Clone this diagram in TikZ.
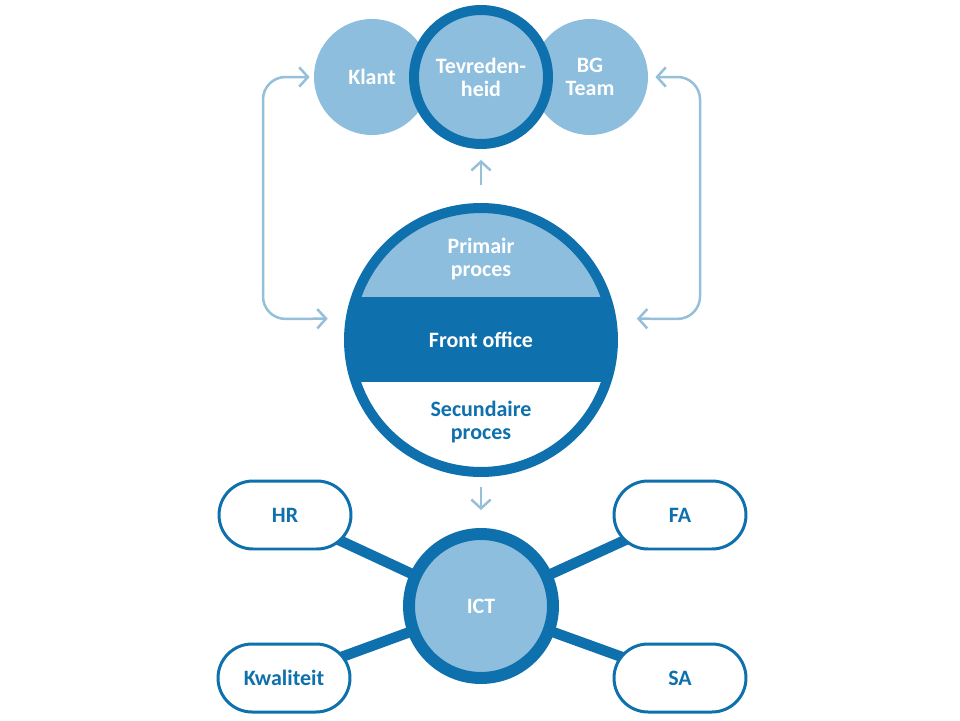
\documentclass[tikz,border=0pt]{standalone}
\usepackage{fontspec}
\setmainfont{Carlito}
\usetikzlibrary{arrows.meta,calc,backgrounds}
\definecolor{dkblue}{RGB}{14,112,172}
\definecolor{ltblue}{RGB}{141,190,222}
\definecolor{arrblue}{RGB}{150,192,218}
\begin{document}
\begin{tikzpicture}[x=0.02cm,y=-0.02cm,
 lbl/.style={font=\bfseries\fontsize{12.5}{13}\selectfont, align=center},
 topc/.style={circle, fill=ltblue, minimum size=2.32cm, inner sep=0pt, text=white, lbl},
 ring/.style={circle, draw=dkblue, line width=0.2cm, inner sep=0pt},
 pill/.style={rectangle, rounded corners=0.68cm, draw=dkblue, line width=0.06cm, fill=white, minimum width=2.64cm, minimum height=1.36cm, text=dkblue, lbl},
 link/.style={draw=dkblue, line width=0.21cm},
 tip/.tip={Straight Barb[length=5pt,width=11pt]},
 flow/.style={draw=arrblue, line width=0.05cm},
]
\useasboundingbox (0,0) rectangle (960,720);

% top circles
\node[topc] (klant) at (372,77) {Klant};
\node[topc] (bg) at (590,77) {BG\\Team};
\node[ring, fill=ltblue, minimum size=2.68cm, text=white, lbl] (tev) at (481,77) {Tevreden-\\heid};

% main circle with bands
\begin{scope}
\clip (481,340) circle (132);
\fill[ltblue] (330,190) rectangle (630,297);
\fill[dkblue] (330,297) rectangle (630,382);
\end{scope}
\node[ring, minimum size=5.28cm] (main) at (481,340) {};
\node[lbl, text=white] (prim) at (481,259) {Primair\\proces};
\node[lbl, text=white] (front) at (481,340) {Front office};
\node[lbl, text=dkblue] (sec) at (481,422) {Secundaire\\proces};

% ICT and pills
\node[ring, line width=0.24cm, fill=ltblue, minimum size=2.88cm, text=white, lbl] (ict) at (481,606) {ICT};
\node[pill] (hr) at (285,515) {HR};
\node[pill] (fa) at (680,515) {FA};
\node[pill] (kw) at (284,678) {Kwaliteit};
\node[pill] (sa) at (680,678) {SA};

\begin{pgfonlayer}{background}
\fill[white] (0,0) rectangle (960,720);
\draw[link] (hr.center) -- (ict.center);
\draw[link] (fa.center) -- (ict.center);
\draw[link] (kw.center) -- (ict.center);
\draw[link] (sa.center) -- (ict.center);
\end{pgfonlayer}

% arrows
\draw[flow, -{tip}, shorten <=0.36cm, shorten >=0.22cm] (main.north) -- (tev.south);
\draw[flow, -{tip}, shorten <=0.2cm, shorten >=0.36cm] (main.south) -- (ict.north);
\draw[flow, {tip}-{tip}, rounded corners=0.45cm, shorten <=0.08cm, shorten >=0.36cm]
  (klant.west) -- (263,77) -- (263,319) -- (main.171);
\draw[flow, {tip}-{tip}, rounded corners=0.45cm, shorten <=0.14cm, shorten >=0.41cm]
  (bg.east) -- (700,77) -- (700,319) -- (main.9);
\end{tikzpicture}
\end{document}
